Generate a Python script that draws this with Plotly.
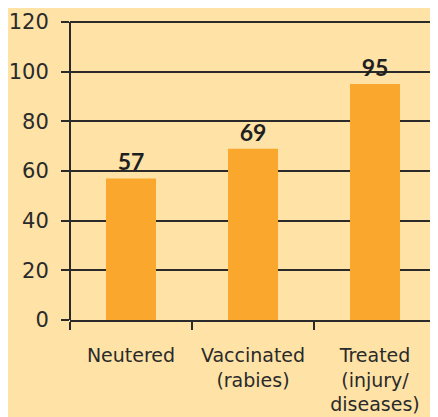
import plotly.graph_objects as go

categories = ["Neutered", "Vaccinated<br>(rabies)", "Treated<br>(injury/<br>diseases)"]
values = [57, 69, 95]
y_ticks = [0, 20, 40, 60, 80, 100, 120]

bg = "#FEE2A6"
ink = "#2a2a2a"

fig = go.Figure()
fig.add_bar(
    x=categories,
    y=values,
    width=0.41,
    marker=dict(color="#F9A82D", line=dict(width=0)),
    text=[str(v) for v in values],
    textposition="outside",
    cliponaxis=False,
    textfont=dict(family="Lato", size=23, color="#1f1f1f", weight="bold"),
)

# page body has an 8px margin, so the figure is a bit smaller than the window
fig.update_layout(
    width=430,
    height=409,
    paper_bgcolor=bg,
    plot_bgcolor=bg,
    margin=dict(l=62, r=2, t=9, b=97),
    showlegend=False,
    font=dict(family="DejaVu Sans", size=19, color=ink),
)
fig.update_xaxes(
    range=[-0.5, 2.5],
    showline=True,
    linecolor=ink,
    linewidth=2,
    ticks="outside",
    tickson="boundaries",
    ticklen=8,
    tickwidth=2,
    tickcolor=ink,
    showgrid=False,
    ticklabelstandoff=17,
    tickfont=dict(size=19),
)
# headroom above 120 so its grid line is still drawn
fig.update_yaxes(
    range=[0, 122],
    tickvals=y_ticks,
    showline=False,
    ticks="outside",
    ticklen=8,
    tickwidth=2,
    tickcolor=ink,
    showgrid=True,
    gridcolor=ink,
    gridwidth=2,
    zeroline=False,
    ticklabelstandoff=8,
    tickfont=dict(size=21),
)
# y-axis spine, stopping at the top tick
fig.add_shape(
    type="line",
    xref="paper", yref="y",
    x0=0, x1=0, y0=0, y1=y_ticks[-1],
    line=dict(color=ink, width=2),
    layer="above",
)

fig.write_html("out.html")
